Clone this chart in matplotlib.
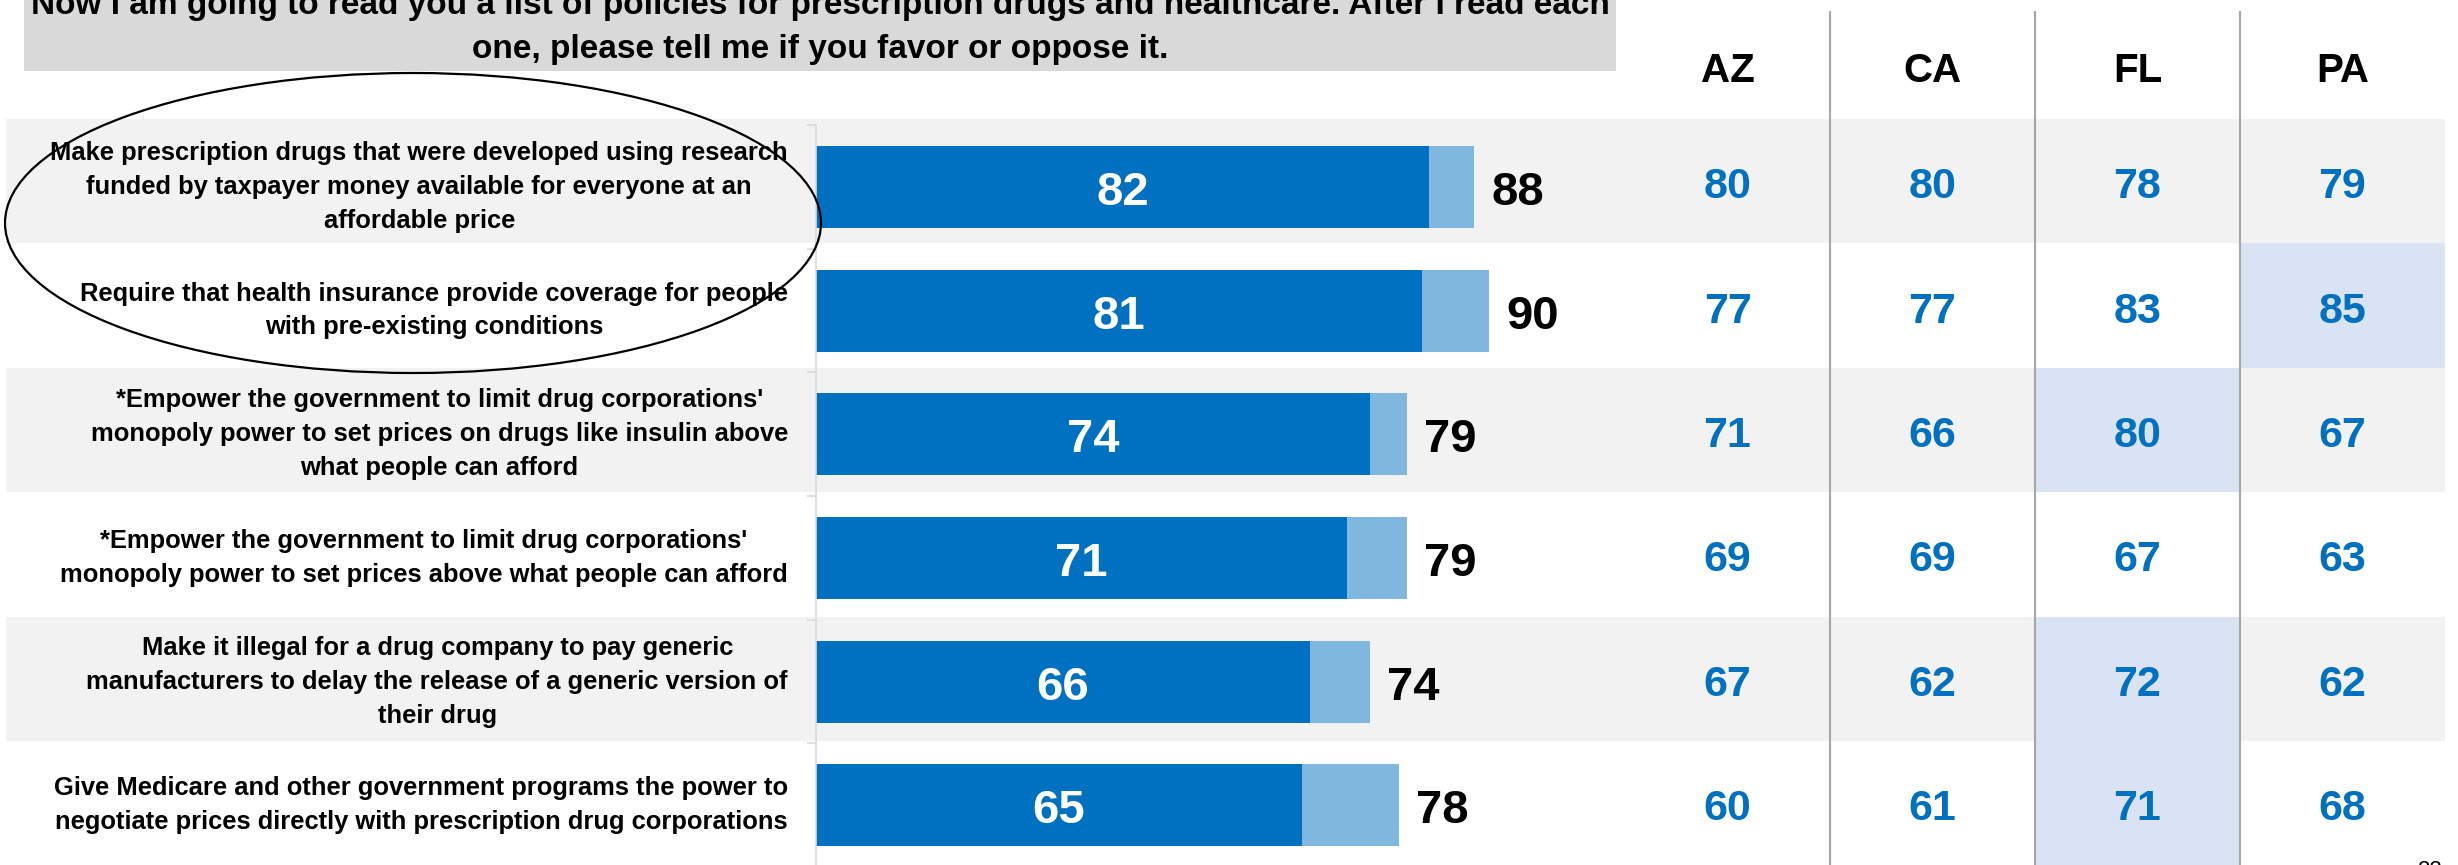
import matplotlib
matplotlib.use("Agg")
import matplotlib.pyplot as plt
from matplotlib.patches import Rectangle, Ellipse
from matplotlib import transforms

# ---- data -------------------------------------------------------------
policies = [
    "Make prescription drugs that were developed using research\n"
    "funded by taxpayer money available for everyone at an\n"
    "affordable price",
    "Require that health insurance provide coverage for people\n"
    "with pre-existing conditions",
    "*Empower the government to limit drug corporations'\n"
    "monopoly power to set prices on drugs like insulin above\n"
    "what people can afford",
    "*Empower the government to limit drug corporations'\n"
    "monopoly power to set prices above what people can afford",
    "Make it illegal for a drug company to pay generic\n"
    "manufacturers to delay the release of a generic version of\n"
    "their drug",
    "Give Medicare and other government programs the power to\n"
    "negotiate prices directly with prescription drug corporations",
]
strongly_favor = [82, 81, 74, 71, 66, 65]
total_favor = [88, 90, 79, 79, 74, 78]

states = ["AZ", "CA", "FL", "PA"]
az_favor = [80, 77, 71, 69, 67, 60]
ca_favor = [80, 77, 66, 69, 62, 61]
fl_favor = [78, 83, 80, 67, 72, 71]
pa_favor = [79, 85, 67, 63, 62, 68]
highlighted = [(1, "PA"), (2, "FL"), (4, "FL"), (5, "FL")]

title_lines = [
    "Now I am going to read you a list of policies for prescription drugs "
    "and healthcare. After I read each",
    "one, please tell me if you favor or oppose it.",
]
page_number = "22"

# ---- style ------------------------------------------------------------
DARK = "#0070C0"
LIGHT = "#80B7DF"
BAND = "#F2F2F2"
HILITE = "#DAE3F3"
HEADER_BOX = "#D9D9D9"
AXIS_GREY = "#D9D9D9"
SEP_GREY = "#A6A6A6"

plt.rcParams["font.family"] = ["Liberation Sans", "DejaVu Sans"]
plt.rcParams["font.weight"] = "bold"

W, H = 2458, 865
fig = plt.figure(figsize=(W / 100, H / 100), dpi=100)
fig.patch.set_facecolor("white")

# full-canvas layers in pixel units
bg = fig.add_axes([0, 0, 1, 1], zorder=0)
fg = fig.add_axes([0, 0, 1, 1], zorder=2)
for a in (bg, fg):
    a.set_xlim(0, W)
    a.set_ylim(H, 0)
    a.axis("off")
    a.patch.set_alpha(0)

n = len(policies)

# table geometry
band_top, band_pitch = 119, 124.4
col_left, col_w = 1625, 205
row_left, row_right = 6, 2445

# alternating row shading
for i in range(n):
    if i % 2 == 0:
        bg.add_patch(Rectangle((row_left, band_top + band_pitch * i),
                               row_right - row_left, band_pitch,
                               color=BAND, lw=0))
# highlighted state cells
for r, st in highlighted:
    c = states.index(st)
    bg.add_patch(Rectangle((col_left + col_w * c, band_top + band_pitch * r),
                           col_w, band_pitch, color=HILITE, lw=0))
# column separators
for c in range(1, len(states)):
    bg.plot([col_left + col_w * c] * 2, [11, H], color=SEP_GREY, lw=1.5,
            solid_capstyle="butt")

# question box
bg.add_patch(Rectangle((24, -5), 1592, 75.7, color=HEADER_BOX, lw=0))
fg.text(820, 14, title_lines[0], ha="center", va="baseline",
        fontsize=24, color="black")
fg.text(820, 58, title_lines[1], ha="center", va="baseline",
        fontsize=24, color="black")

# ---- bar chart ----------------------------------------------------------
x0, px_per_unit = 816, 7.48
cat_top, cat_pitch = 125, 123.7
ax = fig.add_axes([x0 / W, 1 - (cat_top + cat_pitch * n) / H,
                   100 * px_per_unit / W, cat_pitch * n / H], zorder=1)
ax.set_xlim(0, 100)
ax.set_ylim(n - 0.5, -0.5)
ax.patch.set_alpha(0)

ypos = list(range(n))
bar_h = 0.663
ax.barh(ypos, strongly_favor, height=bar_h, color=DARK, lw=0)
ax.barh(ypos, [t - s for t, s in zip(total_favor, strongly_favor)],
        left=strongly_favor, height=bar_h, color=LIGHT, lw=0)

for side in ("top", "right", "bottom"):
    ax.spines[side].set_visible(False)
ax.spines["left"].set_color(AXIS_GREY)
ax.spines["left"].set_linewidth(1.2)
ax.set_xticks([])
ax.set_yticks([i - 0.5 for i in range(n + 1)])
ax.tick_params(axis="y", length=6.5, width=1.2, color=AXIS_GREY,
               labelleft=False)

for i, (s, t) in enumerate(zip(strongly_favor, total_favor)):
    ax.annotate(f"{s}", xy=(s / 2, i), xytext=(0, -18 * 0.72),
                textcoords="offset points", ha="center", va="baseline",
                fontsize=34, color="white")
    ax.annotate(f"{t}", xy=(t, i), xytext=(17 * 0.72, -18 * 0.72),
                textcoords="offset points", ha="left", va="baseline",
                fontsize=34, color="black")

# policy wording, aligned to each bar
lab_tr = transforms.blended_transform_factory(fg.transData, ax.transData)
for i, txt in enumerate(policies):
    fg.text(788, i, txt, transform=lab_tr, ha="right", va="center",
            multialignment="center", fontsize=18.4, linespacing=1.52,
            color="black")

# ---- state columns ------------------------------------------------------
state_values = [az_favor, ca_favor, fl_favor, pa_favor]
for c, (st, vals) in enumerate(zip(states, state_values)):
    cx = col_left + col_w * (c + 0.5)
    fg.text(cx, 82, st, ha="center", va="baseline", fontsize=29,
            color="black")
    for r, v in enumerate(vals):
        cy = band_top + band_pitch * (r + 0.5)
        fg.text(cx, cy + 17, f"{v}", ha="center", va="baseline",
                fontsize=31, color=DARK)

# circled item
fg.add_patch(Ellipse((413, 223), 816, 300, fill=False, ec="black", lw=1.6))

# slide number
fg.text(2443, 860, page_number, ha="right", va="top", fontsize=16,
        weight="normal", color="black")

fig.savefig("out.png", dpi=100)
